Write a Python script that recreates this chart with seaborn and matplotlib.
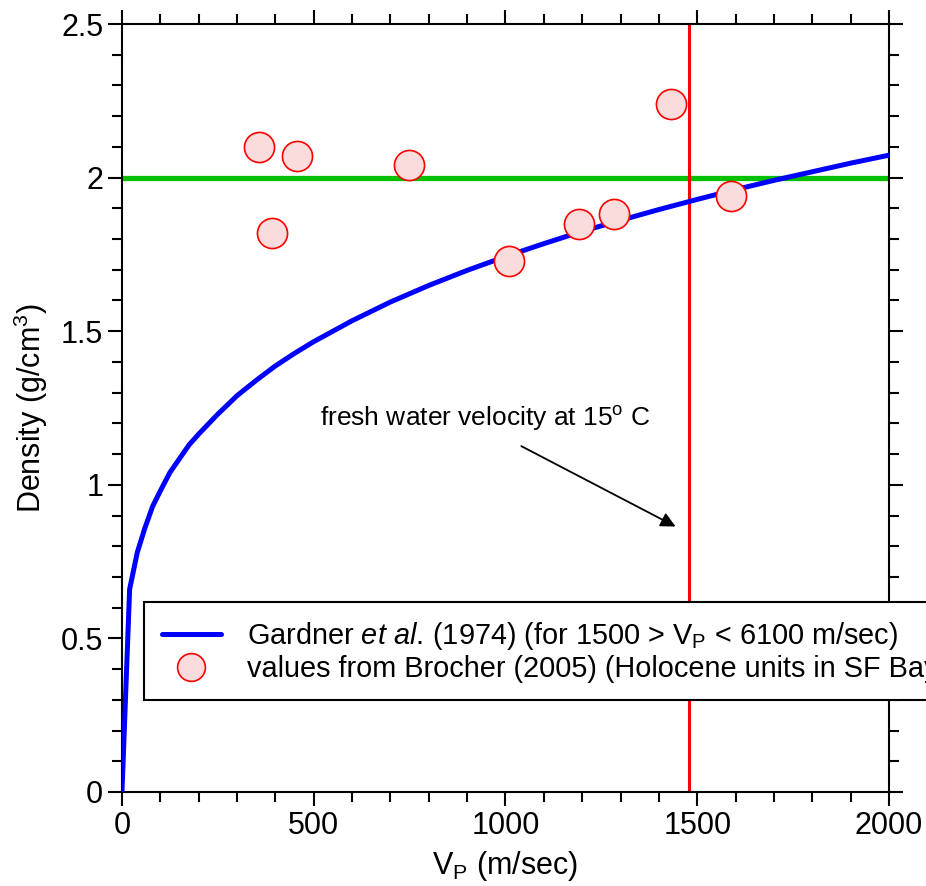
import matplotlib
matplotlib.use("Agg")
import matplotlib.pyplot as plt
from matplotlib.ticker import MultipleLocator
from matplotlib.lines import Line2D
import seaborn as sns
import pandas as pd

# Gardner curve, values
vp_curve = [0, 20, 40, 60, 80, 100, 125, 150, 175, 200, 250, 300, 350, 400,
            450, 500, 600, 700, 800, 900, 1000, 1100, 1200, 1300, 1400, 1500,
            1600, 1700, 1800, 1900, 2000]
rho_curve = [0.0, 0.66, 0.78, 0.86, 0.93, 0.98, 1.04, 1.085, 1.13, 1.165,
             1.23, 1.29, 1.34, 1.387, 1.428, 1.466, 1.534, 1.595, 1.649, 1.698,
             1.743, 1.785, 1.825, 1.861, 1.896, 1.929, 1.961, 1.991, 2.019,
             2.047, 2.073]

# Brocher (2005) points
vp_pts = [357, 391, 456, 748, 1009, 1192, 1283, 1432, 1588]
rho_pts = [2.10, 1.82, 2.07, 2.04, 1.73, 1.85, 1.88, 2.24, 1.94]

water_vp = 1478
ref_rho = 2.0

sns.set_style("ticks")
plt.rcParams['font.family'] = ['Liberation Sans', 'DejaVu Sans']
plt.rcParams['mathtext.fontset'] = 'custom'
plt.rcParams['mathtext.rm'] = 'Liberation Sans'
plt.rcParams['mathtext.it'] = 'Liberation Sans:italic'
for k in ['text.color', 'axes.labelcolor', 'xtick.color', 'ytick.color',
          'axes.edgecolor']:
    plt.rcParams[k] = 'black'

fig = plt.figure(figsize=(9.26, 8.86), dpi=100)
ax = fig.add_axes([0.1317, 0.1061, 0.8283, 0.8668])

curve = pd.DataFrame({"vp": vp_curve, "rho": rho_curve})
pts = pd.DataFrame({"vp": vp_pts, "rho": rho_pts})

ax.axhline(ref_rho, color="#00c000", lw=3.8, zorder=2)
ax.axvline(water_vp, color="red", lw=2.2, zorder=2)
sns.lineplot(data=curve, x="vp", y="rho", color="blue", lw=3.6, ax=ax, zorder=3)
sns.scatterplot(data=pts, x="vp", y="rho", s=470, color="#fadcdc",
                edgecolor="red", linewidth=1.2, ax=ax, zorder=4)

ax.text(516, 1.217, "fresh water velocity at 15$^\\mathrm{o}$ C", fontsize=19,
        va="center", ha="left")
ax.annotate("", xy=(1450, 0.86), xytext=(1035, 1.13),
            arrowprops=dict(arrowstyle="-|>", color="black", lw=1.3,
                            mutation_scale=22))

ax.set_xlim(0, 2000)
ax.set_ylim(0, 2.5)
ax.xaxis.set_major_locator(MultipleLocator(500))
ax.xaxis.set_minor_locator(MultipleLocator(100))
ax.yaxis.set_major_locator(MultipleLocator(0.5))
ax.yaxis.set_minor_locator(MultipleLocator(0.1))
ax.set_yticks([0, 0.5, 1, 1.5, 2, 2.5], ["0", "0.5", "1", "1.5", "2", "2.5"])
ax.tick_params(which="both", direction="out", top=True, right=True,
               labelsize=22, width=1.5, color="black")
ax.tick_params(which="major", length=10)
ax.tick_params(which="minor", length=7)
for sp in ax.spines.values():
    sp.set_linewidth(1.5)

ax.set_xlabel("V$_\\mathrm{P}$ (m/sec)", fontsize=22, labelpad=6)
ax.set_ylabel("Density (g/cm$^3$)", fontsize=22, labelpad=8)

handles = [
    Line2D([], [], color="blue", lw=3.6),
    Line2D([], [], marker="o", ls="none", markersize=20,
           markerfacecolor="#fadcdc", markeredgecolor="red", markeredgewidth=1.2),
]
labels = [
    "Gardner $\\it{et\\ al.}\\,$(1974) (for 1500 > V$_\\mathrm{P}$ < 6100 m/sec)",
    "values from Brocher (2005) (Holocene units in SF Bay)",
]
leg = ax.legend(handles, labels, loc="upper left", bbox_to_anchor=(0.029, 0.247),
                borderaxespad=0, fontsize=20.8, frameon=True, fancybox=False,
                framealpha=1, edgecolor="black", handlelength=2.05,
                handletextpad=0.9, labelspacing=0.12, borderpad=0.6)
leg.get_frame().set_linewidth(1.5)

fig.savefig("out.png", dpi=100)
